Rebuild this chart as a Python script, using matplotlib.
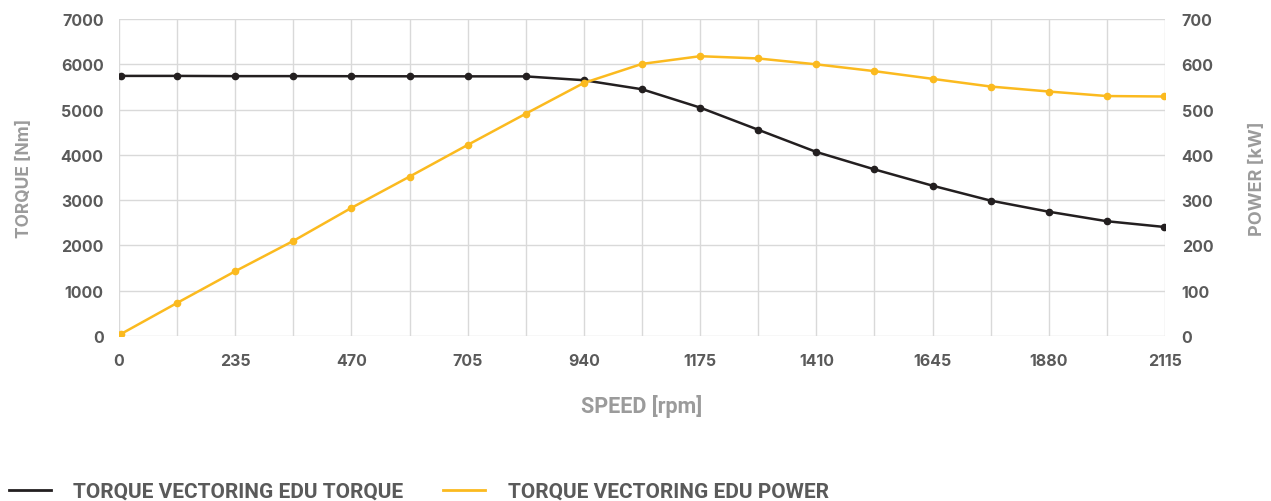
import matplotlib.pyplot as plt
from matplotlib.lines import Line2D
import numpy as np

# speed points (rpm), one every 117.5
speed = [5, 117.5, 235, 352.5, 470, 587.5, 705, 822.5, 940, 1057.5,
         1175, 1292.5, 1410, 1527.5, 1645, 1762.5, 1880, 1997.5, 2112]
torque = [5745, 5745, 5740, 5740, 5738, 5736, 5735, 5734, 5650, 5450,
          5045, 4555, 4065, 3680, 3320, 2990, 2745, 2535, 2410]
power = [5, 73, 143, 210, 283, 352, 422, 491, 559, 601,
         618, 613, 600, 585, 568, 551, 540, 530, 529]

x_ticks = [0, 235, 470, 705, 940, 1175, 1410, 1645, 1880, 2115]
torque_ticks = [0, 1000, 2000, 3000, 4000, 5000, 6000, 7000]
power_ticks = [0, 100, 200, 300, 400, 500, 600, 700]

BLACK = '#231f20'
YELLOW = '#fbba1f'
TICK = '#5a5a5a'
LABEL = '#9b9b9b'
GRID = '#d9d9d9'

plt.rcParams['font.family'] = ['Inter', 'DejaVu Sans']

fig = plt.figure(figsize=(12.71, 5.02), dpi=100)
ax = fig.add_axes([0.0936, 0.3287, 0.823, 0.6313])
ax2 = ax.twinx()

ax.set_xlim(0, 2115)
ax.set_ylim(0, 7000)
ax2.set_ylim(0, 700)

ax.set_xticks(x_ticks)
ax.set_xticks(np.arange(0, 2116, 117.5), minor=True)
ax.set_yticks(torque_ticks)
ax2.set_yticks(power_ticks)

# grid on the lower axes, power line on the upper one
ax.grid(True, which='both', axis='x', color=GRID, lw=1)
ax.grid(True, which='major', axis='y', color=GRID, lw=1)
ax.set_axisbelow(True)

for a in (ax, ax2):
    for s in a.spines.values():
        s.set_visible(False)
    a.tick_params(which='both', length=0, labelsize=11.5, labelcolor=TICK)
ax.tick_params(axis='x', pad=12)
ax.tick_params(axis='y', pad=11)
ax2.tick_params(axis='y', pad=12)
for lab in ax.get_xticklabels() + ax.get_yticklabels() + ax2.get_yticklabels():
    lab.set_fontweight('bold')

ax.plot(speed, torque, color=BLACK, lw=1.8, marker='o', ms=4.5, zorder=3)
ax2.plot(speed, power, color=YELLOW, lw=1.8, marker='o', ms=4.5, zorder=3)

ax.set_ylabel('TORQUE [Nm]', color=LABEL, fontsize=12.5, fontweight='bold',
              labelpad=20)
ax2.set_ylabel('POWER [kW]', color=LABEL, fontsize=13, fontweight='bold',
               labelpad=25)
ax.set_xlabel('SPEED [rpm]', color=LABEL, fontsize=15.5, fontweight='bold',
              labelpad=19, family=['Roboto', 'DejaVu Sans'])

handles = [Line2D([], [], color=BLACK, lw=2),
           Line2D([], [], color=YELLOW, lw=2)]
fig.legend(handles, ['TORQUE VECTORING EDU TORQUE', 'TORQUE VECTORING EDU POWER'],
           loc='lower left', bbox_to_anchor=(0.007, 0.0), ncol=2, frameon=False,
           borderpad=0, borderaxespad=0,
           handlelength=2.0, handletextpad=1.1, columnspacing=1.9,
           prop={'family': ['Roboto', 'DejaVu Sans'], 'weight': 'bold', 'size': 15},
           labelcolor=TICK)

fig.savefig('out.png', dpi=100)
